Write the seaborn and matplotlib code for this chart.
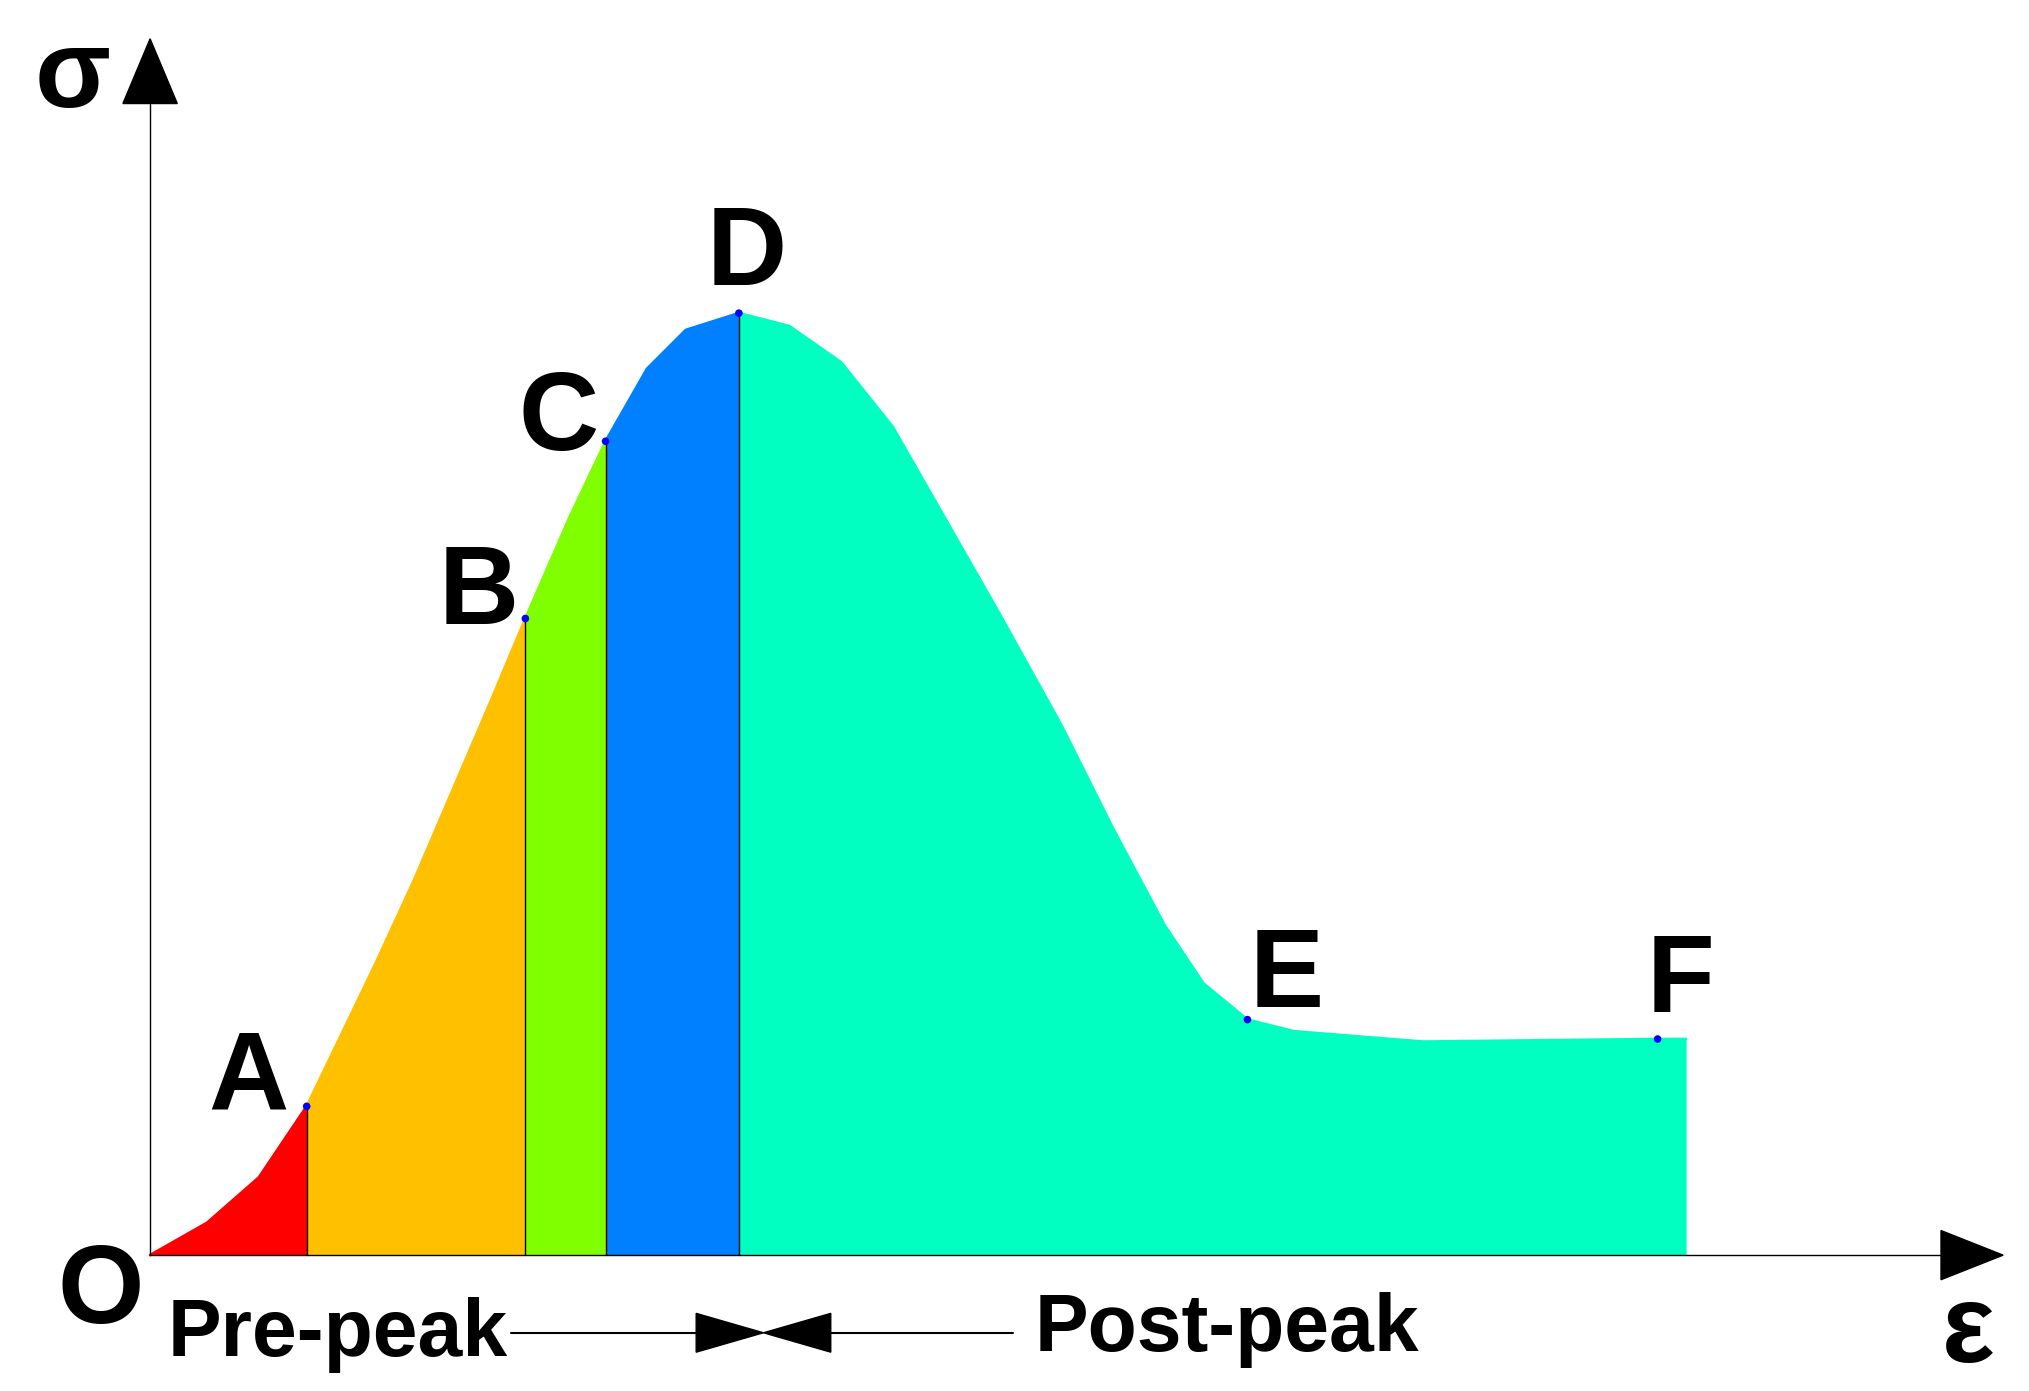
import numpy as np
import matplotlib
matplotlib.use("Agg")
import matplotlib.pyplot as plt
import seaborn as sns
import pandas as pd

sns.set_theme(style="white")
plt.rcParams['font.family'] = ['Liberation Sans', 'DejaVu Sans']
plt.rcParams['text.color'] = 'black'

# curve (strain, stress) in arbitrary units
strain = [0, 44, 84, 121, 174, 204, 264, 290, 324, 352, 384, 414, 455, 494, 534, 574, 614, 654, 704, 744, 784, 814, 848, 884, 984, 1165, 1187]
stress = [0, 25, 60, 115, 225, 290, 430, 492, 570, 629, 685, 715, 728, 718, 690, 640, 570, 500, 410, 330, 255, 210, 182, 173, 165, 167, 167]
key_labels = ["A", "B", "C", "D", "E", "F"]
key_idx = [3, 7, 9, 12, 22, 25]
seg_colors = ["#ff0000", "#ffc000", "#80ff00", "#0080ff", "#00ffc0"]
seg_bounds = [0, 3, 7, 9, 12, 26]

df = pd.DataFrame({"strain": strain, "stress": stress})

fig = plt.figure(figsize=(20.29, 13.91), dpi=100)
ax = fig.add_axes([0, 0, 1, 1])
ax.set_xlim(-116, 1452)
ax.set_ylim(-105, 970)
ax.axis("off")

for i, c in enumerate(seg_colors):
    s = df.iloc[seg_bounds[i]:seg_bounds[i + 1] + 1]
    ax.fill_between(s["strain"], 0, s["stress"], color=c, lw=0)
    sns.lineplot(data=s, x="strain", y="stress", color=c, lw=2, ax=ax, sort=False)
for i in key_idx[:4]:
    ax.plot([strain[i]] * 2, [0, stress[i]], color="black", lw=1)

kx = [strain[i] for i in key_idx]
ky = [stress[i] for i in key_idx]
sns.scatterplot(x=kx, y=ky, color="blue", s=30, ax=ax, zorder=5, edgecolor="none")

# axes
ax.plot([0, 1384], [0, 0], color="black", lw=1)
ax.plot([0, 0], [0, 895], color="black", lw=1)
ax.fill([-21, 21, 0], [890, 890, 940], color="black")
ax.fill([1384, 1384, 1432], [19, -19, 0], color="black")

fs = 80
lab_off = {"A": (-45, 20), "B": (-36, 18), "C": (-36, 16), "D": (6, 44), "E": (30, 32), "F": (18, 43)}
for l, x, y in zip(key_labels, kx, ky):
    dx, dy = lab_off[l]
    ax.text(x + dx, y + dy, l, fontsize=fs, fontweight="bold", ha="center", va="center", color="black")
ax.text(-60, 910, "σ", fontsize=fs, fontweight="bold", ha="center", va="center", color="black")
ax.text(-38, -30, "O", fontsize=fs, fontweight="bold", ha="center", va="center", color="black")
ax.text(1405, -60, "ε", fontsize=fs, fontweight="bold", ha="center", va="center", color="black")

ax.text(145, -62, "Pre-peak", fontsize=58, fontweight="bold", ha="center", va="center", color="black")
ax.text(832, -58, "Post-peak", fontsize=58, fontweight="bold", ha="center", va="center", color="black")
yA = -60
ax.plot([279, 422], [yA, yA], color="black", lw=1.5)
ax.fill([422, 422, 474], [yA + 15, yA - 15, yA], color="black")
ax.plot([526, 667], [yA, yA], color="black", lw=1.5)
ax.fill([526, 526, 474], [yA + 15, yA - 15, yA], color="black")

fig.savefig("out.png", dpi=100, facecolor="white")
